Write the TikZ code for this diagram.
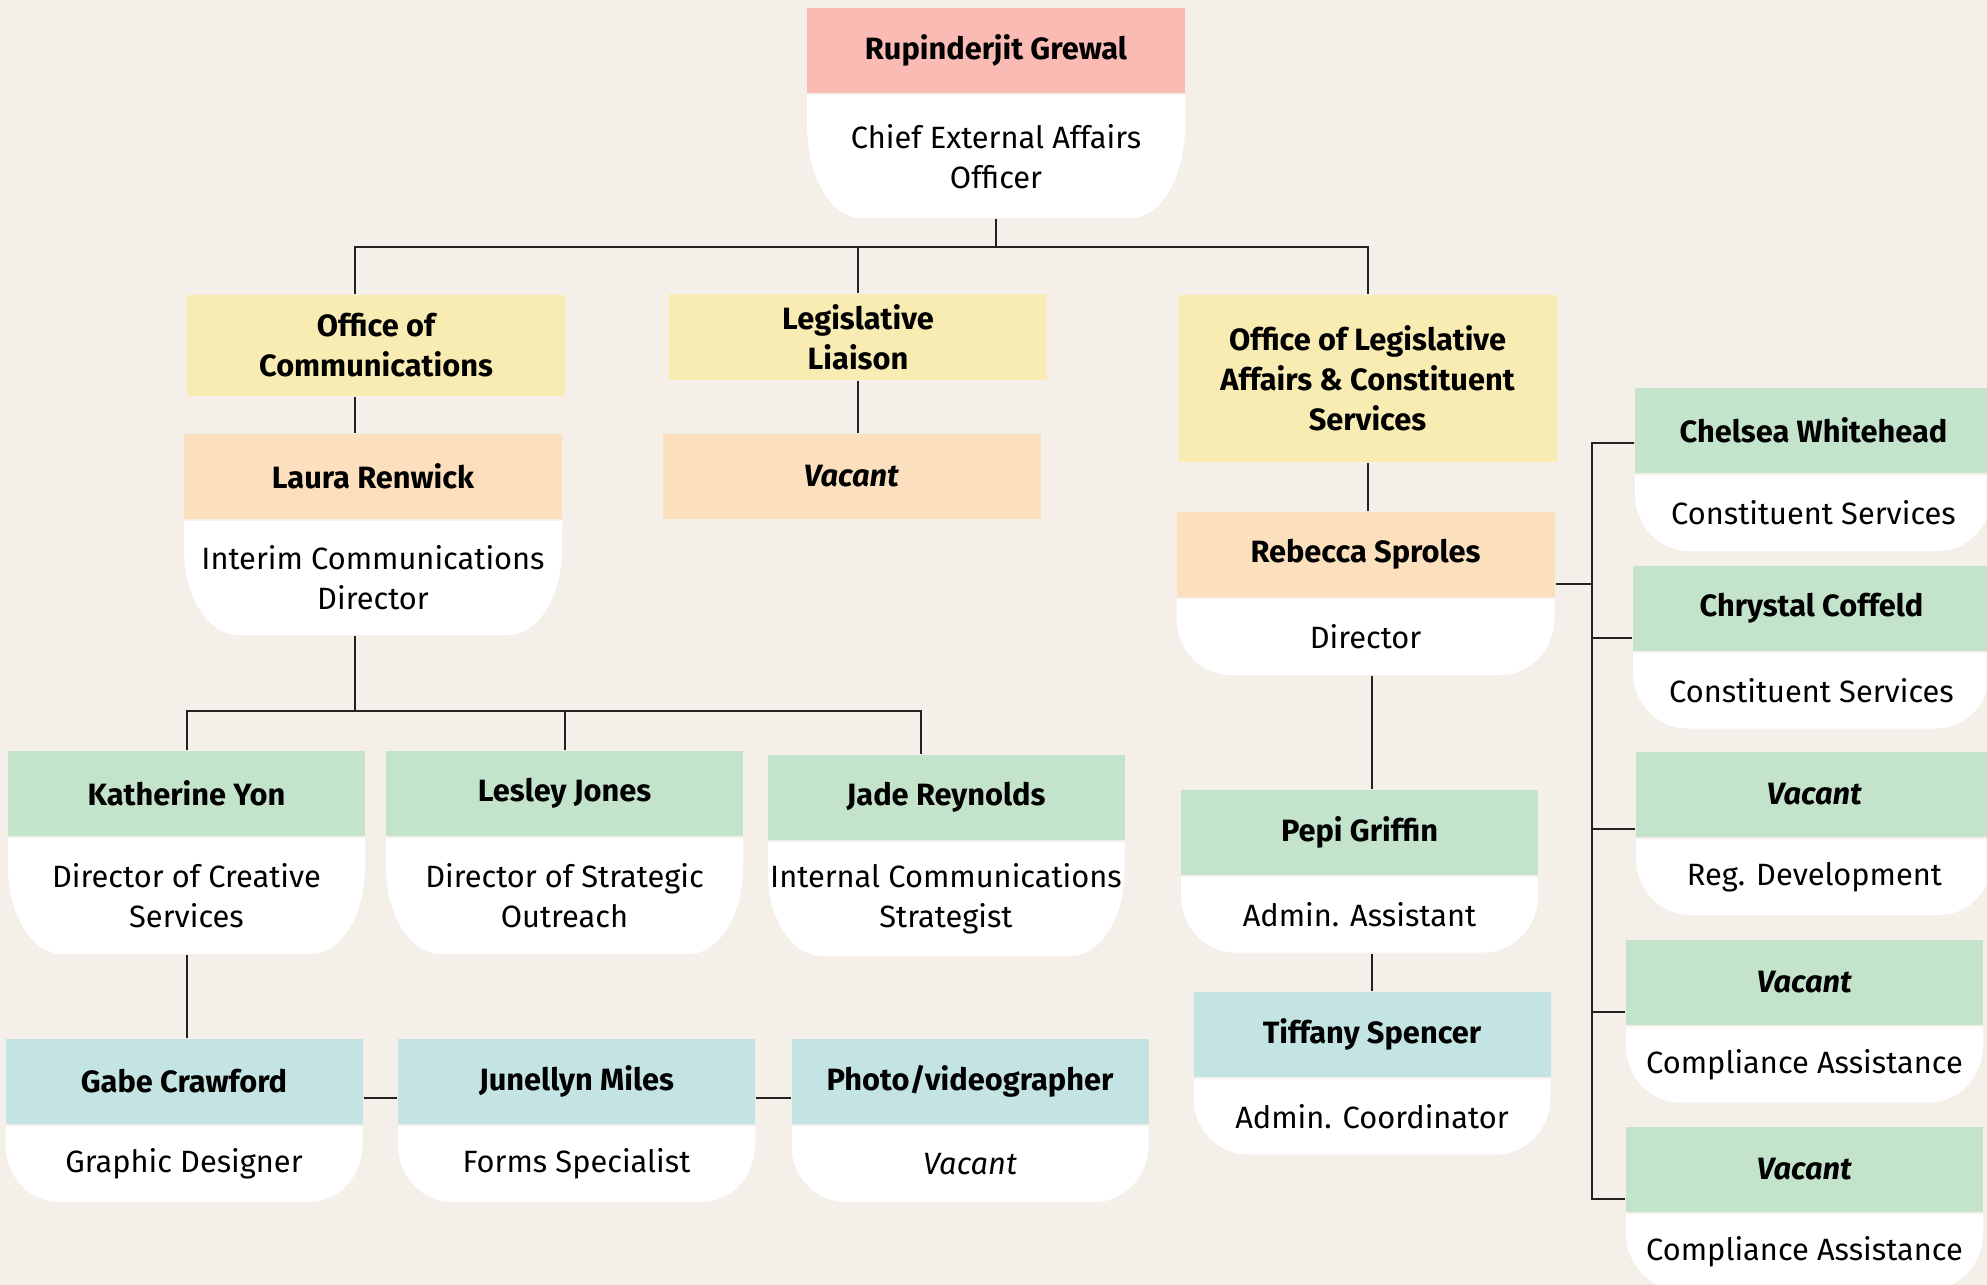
\documentclass[tikz,border=0pt]{standalone}
\usepackage{fontspec}
\setmainfont{Fira Sans}
\usetikzlibrary{positioning}

\definecolor{bg}{HTML}{F4EFE9}
\definecolor{cpink}{HTML}{FABBB4}
\definecolor{cyellow}{HTML}{F8ECB2}
\definecolor{cpeach}{HTML}{FCE0BE}
\definecolor{cgreen}{HTML}{C3E4CA}
\definecolor{cteal}{HTML}{C3E4E2}
\definecolor{cline}{HTML}{222222}

\begin{document}
\begin{tikzpicture}[x=0.5pt,y=-0.5pt,line width=1pt,draw=cline,
  font=\fontsize{15.4}{20}\selectfont,
  head/.style={rectangle, inner sep=0pt, align=center, minimum height=42.5pt, font=\fontsize{15.4}{20}\selectfont\bfseries},
  role/.style={rectangle, inner sep=0pt, align=center, minimum height=#1,
    path picture={\fill[white] (path picture bounding box.north west) -- (path picture bounding box.north east)
      -- ([yshift=0.75*#1]path picture bounding box.south east)
      arc[start angle=0, end angle=-90, x radius=27pt, y radius=0.75*#1]
      -- ([xshift=27pt]path picture bounding box.south west)
      arc[start angle=-90, end angle=-180, x radius=27pt, y radius=0.75*#1] -- cycle;}},
  wide/.style={minimum width=189pt},
  narrow/.style={minimum width=178.5pt}]

  \useasboundingbox (0,0) rectangle (1987,1285);
  \fill[bg] (0,0) rectangle (1987,1285);

  % chief
  \node[head, wide, fill=cpink] (RG) at (996,50.5) {Rupinderjit Grewal};
  \node[role=61.5pt, wide, below=0pt of RG] (RGr) {Chief External Affairs\\Officer};

  % offices
  \node[head, wide, fill=cyellow, minimum height=50.5pt] (OC) at (376,345.5) {Office of\\Communications};
  \node[head, wide, fill=cyellow, minimum height=43pt] (LL) at (858,337) {Legislative\\Liaison};
  \node[head, wide, fill=cyellow, minimum height=83.5pt] (OLA) at (1367.5,378.5) {Office of Legislative\\Affairs \& Constituent\\Services};

  % office heads
  \node[head, wide, fill=cpeach] (LR) at (373,476.5) {Laura Renwick};
  \node[role=57pt, wide, below=0pt of LR] (LRr) {Interim Communications\\Director};
  \node[head, wide, fill=cpeach] (LLv) at (851.5,476.5) {\textit{Vacant}};
  \node[head, wide, fill=cpeach] (RS) at (1365.5,554.5) {Rebecca Sproles};
  \node[role=38pt, wide, below=0pt of RS] (RSr) {Director};

  % communications staff
  \node[head, narrow, fill=cgreen] (KY) at (186.5,793.5) {Katherine Yon};
  \node[role=58pt, narrow, below=0pt of KY] (KYr) {Director of Creative\\Services};
  \node[head, narrow, fill=cgreen] (LJ) at (564.5,793.5) {Lesley Jones};
  \node[role=58pt, narrow, below=0pt of LJ] (LJr) {Director of Strategic\\Outreach};
  \node[head, narrow, fill=cgreen] (JR) at (946,797.5) {Jade Reynolds};
  \node[role=57pt, narrow, below=0pt of JR] (JRr) {Internal Communications\\Strategist};

  \node[head, narrow, fill=cteal] (GC) at (184,1081.5) {Gabe Crawford};
  \node[role=38pt, narrow, below=0pt of GC] (GCr) {Graphic Designer};
  \node[head, narrow, fill=cteal] (JM) at (576.5,1081.5) {Junellyn Miles};
  \node[role=38pt, narrow, below=0pt of JM] (JMr) {Forms Specialist};
  \node[head, narrow, fill=cteal] (PV) at (970,1081.5) {Photo/videographer};
  \node[role=38pt, narrow, below=0pt of PV] (PVr) {\textit{Vacant}};

  % legislative affairs staff
  \node[head, narrow, fill=cgreen] (PG) at (1359.5,832) {Pepi Griffin};
  \node[role=38pt, narrow, below=0pt of PG] (PGr) {Admin. Assistant};
  \node[head, narrow, fill=cteal] (TS) at (1372,1034) {Tiffany Spencer};
  \node[role=38pt, narrow, below=0pt of TS] (TSr) {Admin. Coordinator};

  \node[head, narrow, fill=cgreen] (CW) at (1813.5,430.5) {Chelsea Whitehead};
  \node[role=38pt, narrow, below=0pt of CW] (CWr) {Constituent Services};
  \node[head, narrow, fill=cgreen] (CC) at (1811.5,608) {Chrystal Coffeld};
  \node[role=38pt, narrow, below=0pt of CC] (CCr) {Constituent Services};
  \node[head, narrow, fill=cgreen] (VR) at (1814.5,794.5) {\textit{Vacant}};
  \node[role=38pt, narrow, below=0pt of VR] (VRr) {Reg. Development};
  \node[head, narrow, fill=cgreen] (VC1) at (1804.5,982) {\textit{Vacant}};
  \node[role=38pt, narrow, below=0pt of VC1] (VC1r) {Compliance Assistance};
  \node[head, narrow, fill=cgreen] (VC2) at (1804.5,1169.5) {\textit{Vacant}};
  \node[role=38pt, narrow, below=0pt of VC2] (VC2r) {Compliance Assistance};

  % connectors
  \coordinate (top) at (996,247);
  \draw (RGr.south) -- (top);
  \draw ([xshift=-10.5pt]OC.north) |- (OLA.north |- top) -- (OLA.north);
  \draw (LL.north) -- (LL.north |- top);
  \draw ([xshift=-10.5pt]OC.south) -- ([xshift=-10.5pt]OC.south |- LR.north);
  \draw (LL.south) -- (LL.south |- LLv.north);
  \draw (OLA.south) -- (OLA.south |- RS.north);

  \coordinate (comms) at (355,711);
  \draw ([xshift=-9pt]LRr.south) -- (comms);
  \draw (KY.north) |- ([xshift=-12.5pt]JR.north |- comms) -- ([xshift=-12.5pt]JR.north);
  \draw (LJ.north) -- (LJ.north |- comms);
  \draw (KYr.south) -- (KYr.south |- GC.north);
  \draw ([yshift=-8pt]GC.east) -- ([yshift=-8pt]JM.west);
  \draw ([yshift=-8pt]JM.east) -- ([yshift=-8pt]PV.west);

  \draw ([xshift=3pt]RSr.south) -- ([xshift=3pt]RSr.south |- PG.north);
  \draw (TS.north) -- (TS.north |- PGr.south);

  \coordinate (staff) at (1592,442);
  \draw (staff) -- ([yshift=7pt]VC2.south west -| staff) -- ([yshift=7pt]VC2.south west);
  \draw ([yshift=7pt]RS.south east) -- ([yshift=7pt]RS.south east -| staff);
  \draw ([yshift=15.5pt]CW.south west) -- ([yshift=15.5pt]CW.south west -| staff);
  \draw ([yshift=7pt]CC.south west) -- ([yshift=7pt]CC.south west -| staff);
  \draw ([yshift=4.5pt]VR.south west) -- ([yshift=4.5pt]VR.south west -| staff);
  \draw ([yshift=7pt]VC1.south west) -- ([yshift=7pt]VC1.south west -| staff);
\end{tikzpicture}
\end{document}
